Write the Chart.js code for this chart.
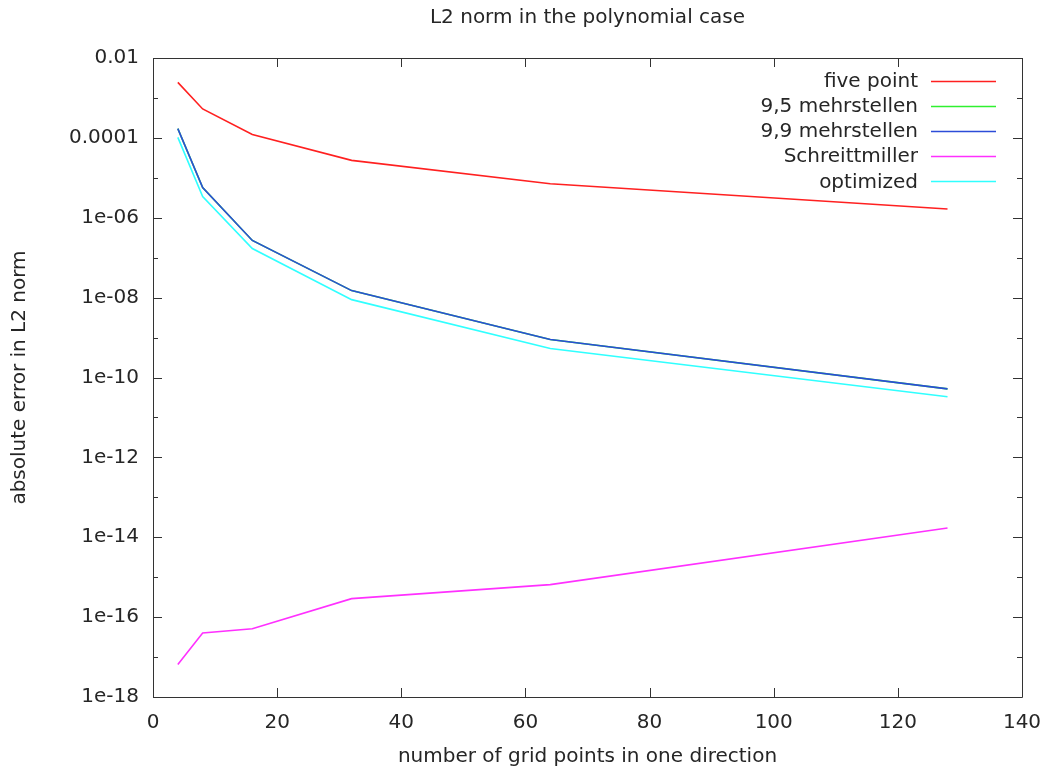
<!DOCTYPE html>
<html>
<head>
<meta charset="utf-8">
<script src="https://cdn.jsdelivr.net/npm/chart.js@4.4.1/dist/chart.umd.min.js"></script>
<style>
  html, body { margin: 0; padding: 0; background: #ffffff; }
  #wrap { width: 1050px; height: 776px; }
</style>
</head>
<body>
<div id="wrap"><canvas id="c" width="1050" height="776"></canvas></div>
<script>
// ---- data ----
const gridPoints = [4, 8, 16, 32, 64, 128];
const seriesNames = ['five point', '9,5 mehrstellen', '9,9 mehrstellen', 'Schreittmiller', 'optimized'];
const fivePoint      = [2.45e-3, 5.3e-4, 1.22e-4, 2.73e-5, 7.1e-6, 1.66e-6];
const mehr95         = [1.7e-4, 5.7e-6, 2.7e-7, 1.5e-8, 8.9e-10, 5.2e-11];
const mehr99         = [1.7e-4, 5.7e-6, 2.7e-7, 1.5e-8, 8.9e-10, 5.2e-11];
const schreittmiller = [6.5e-18, 4.0e-17, 5.1e-17, 2.9e-16, 6.5e-16, 1.7e-14];
const optimized      = [1.03e-4, 3.4e-6, 1.7e-7, 8.9e-9, 5.3e-10, 3.3e-11];
const seriesColors = ['#ff2020', '#30f030', '#2c4cd8', '#ff30ff', '#30ffff'];
const xTickValues = [0, 20, 40, 60, 80, 100, 120, 140];
const yTickValues = [1e-18, 1e-17, 1e-16, 1e-15, 1e-14, 1e-13, 1e-12, 1e-11, 1e-10, 1e-9, 1e-8, 1e-7, 1e-6, 1e-5, 1e-4, 1e-3, 1e-2];
const yTickLabels = ['1e-18', '', '1e-16', '', '1e-14', '', '1e-12', '', '1e-10', '', '1e-08', '', '1e-06', '', '0.0001', '', '0.01'];

const FONT = 'DejaVu Sans';
const TEXT = '#262626';
const FRAME = '#333333';

const allSeries = [fivePoint, mehr95, mehr99, schreittmiller, optimized];
const datasets = allSeries.map((vals, i) => ({
  label: seriesNames[i],
  data: gridPoints.map((x, j) => ({ x: x, y: vals[j] })),
  borderColor: seriesColors[i],
  backgroundColor: seriesColors[i],
  borderWidth: 1.6,
  pointRadius: 0,
  tension: 0,
  fill: false,
  order: 5 - i
}));

const framePlugin = {
  id: 'frameTicks',
  afterDatasetsDraw(chart) {
    const { ctx, chartArea: a, scales } = chart;
    const xs = scales.x, ys = scales.y;
    ctx.save();
    ctx.strokeStyle = FRAME;
    ctx.lineWidth = 1;
    ctx.beginPath();
    ctx.rect(Math.round(a.left) + 0.5, Math.round(a.top) + 0.5, Math.round(a.right - a.left), Math.round(a.bottom - a.top));
    ctx.stroke();
    ctx.beginPath();
    xTickValues.forEach(v => {
      const px = Math.round(xs.getPixelForValue(v)) + 0.5;
      ctx.moveTo(px, a.bottom); ctx.lineTo(px, a.bottom - 9);
      ctx.moveTo(px, a.top); ctx.lineTo(px, a.top + 9);
    });
    yTickValues.forEach((v, i) => {
      const py = Math.round(ys.getPixelForValue(v)) + 0.5;
      const len = yTickLabels[i] ? 9 : 5;
      ctx.moveTo(a.left, py); ctx.lineTo(a.left + len, py);
      ctx.moveTo(a.right, py); ctx.lineTo(a.right - len, py);
    });
    ctx.stroke();
    ctx.restore();
  }
};

const legendPlugin = {
  id: 'gpLegend',
  afterDatasetsDraw(chart) {
    const { ctx } = chart;
    ctx.save();
    ctx.font = '20px "' + FONT + '"';
    ctx.textAlign = 'right';
    ctx.textBaseline = 'middle';
    const textRight = 918, lineX0 = 931, lineX1 = 996, y0 = 80.5, dy = 25.2;
    chart.data.datasets.forEach((ds, i) => {
      const y = y0 + i * dy;
      ctx.fillStyle = TEXT;
      ctx.fillText(ds.label, textRight, y + 1);
      ctx.strokeStyle = ds.borderColor;
      ctx.lineWidth = 1.6;
      ctx.beginPath();
      ctx.moveTo(lineX0, Math.round(y) + 0.5);
      ctx.lineTo(lineX1, Math.round(y) + 0.5);
      ctx.stroke();
    });
    ctx.restore();
  }
};

new Chart(document.getElementById('c'), {
  type: 'line',
  data: { datasets: datasets },
  options: {
    responsive: false,
    animation: false,
    events: [],
    layout: { padding: { left: 0, right: 28, top: 0, bottom: 0 } },
    plugins: {
      legend: { display: false },
      tooltip: { enabled: false },
      title: {
        display: true,
        fullSize: false,
        text: 'L2 norm in the polynomial case',
        color: TEXT,
        font: { family: FONT, size: 20, weight: 'normal', lineHeight: 1.2 },
        padding: { top: 6, bottom: 28 }
      }
    },
    scales: {
      x: {
        type: 'linear',
        min: 0, max: 140,
        afterBuildTicks(scale) { scale.ticks = xTickValues.map(v => ({ value: v })); },
        afterFit(scale) { scale.height = 79; scale.paddingLeft = 0; scale.paddingRight = 0; },
        grid: { display: false, drawTicks: false },
        border: { display: false },
        ticks: {
          autoSkip: false, maxRotation: 0, padding: 14,
          color: TEXT,
          font: { family: FONT, size: 20, lineHeight: 1.2 },
          callback: (v) => String(v)
        },
        title: {
          display: true,
          text: 'number of grid points in one direction',
          color: TEXT,
          font: { family: FONT, size: 20, lineHeight: 1.2 },
          padding: { top: 0, bottom: 7 }
        }
      },
      y: {
        type: 'logarithmic',
        min: 1e-18, max: 1e-2,
        afterBuildTicks(scale) { scale.ticks = yTickValues.map(v => ({ value: v })); },
        afterFit(scale) { scale.width = 153; scale.paddingTop = 0; scale.paddingBottom = 0; },
        grid: { display: false, drawTicks: false },
        border: { display: false },
        ticks: {
          autoSkip: false, padding: 14,
          color: TEXT,
          font: { family: FONT, size: 20, lineHeight: 1.2 },
          callback: (v, i) => yTickLabels[i]
        },
        title: {
          display: true,
          text: 'absolute error in L2 norm',
          color: TEXT,
          font: { family: FONT, size: 20, lineHeight: 1.2 },
          padding: { top: 8, bottom: 0 }
        }
      }
    }
  },
  plugins: [framePlugin, legendPlugin]
});
</script>
</body>
</html>
